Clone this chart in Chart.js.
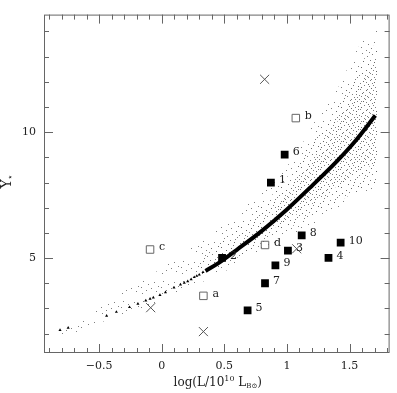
<!DOCTYPE html>
<html><head><meta charset="utf-8">
<script src="https://cdn.jsdelivr.net/npm/chart.js@4/dist/chart.umd.min.js"></script>
<style>html,body{margin:0;padding:0;background:#fff;overflow:hidden}</style>
</head><body>
<canvas id="c" width="397" height="393"></canvas>
<script>
// ---- data ----
const xTickValues = [-0.5, 0, 0.5, 1, 1.5];
const xTickLabels = ['\u22120.5', '0', '0.5', '1', '1.5'];
const yTickValues = [5, 10];
const yTickLabels = ['5', '10'];

const filledLabels = ['1','2','3','4','5','6','7','8','9','10'];
const filledX = [0.872, 0.482, 1.008, 1.332, 0.686, 0.982, 0.825, 1.118, 0.908, 1.429];
const filledY = [8.00, 5.01, 5.30, 5.01, 2.92, 9.11, 4.00, 5.90, 4.71, 5.61];

const openLabels = ['a','b','c','d'];
const openX = [0.333, 1.071, -0.093, 0.825];
const openY = [3.50, 10.56, 5.34, 5.52];

const crossX = [0.822, -0.088, 0.333, 1.078];
const crossY = [12.10, 3.03, 2.08, 5.37];

// relation: sparse triangles at the faint end, thick curve at the bright end
const triX = [-0.812, -0.747, -0.44, -0.362, -0.257, -0.19, -0.127, -0.093, -0.067, -0.014, 0.03, 0.098, 0.15, 0.18, 0.208, 0.235, 0.26, 0.28, 0.30, 0.33];
const triY = [2.14, 2.23, 2.71, 2.86, 3.05, 3.18, 3.31, 3.38, 3.43, 3.53, 3.64, 3.83, 3.95, 4.02, 4.08, 4.16, 4.24, 4.29, 4.34, 4.44];
const curveX = [0.35, 0.456, 0.6, 0.8, 1.0, 1.2, 1.4, 1.55, 1.706];
const curveY = [4.49, 4.81, 5.33, 6.08, 6.93, 7.87, 8.85, 9.67, 10.66];

// envelope of the model cloud: outer (sparse), middle, dense core
const cloudUpperX = [-0.82, -0.5, -0.2, 0.0, 0.18, 0.31, 0.52, 0.757, 0.937, 1.07, 1.173, 1.28, 1.384, 1.486, 1.594, 1.70, 1.72];
const cloudUpperY = [2.0, 3.0, 4.0, 4.6, 5.2, 5.7, 6.45, 7.5, 8.3, 9.1, 10.0, 10.9, 11.55, 12.55, 13.55, 14.1, 14.2];
const cloudLowerX = [-0.82, -0.4, 0.0, 0.3, 0.55, 0.78, 0.99, 1.175, 1.306, 1.437, 1.594, 1.72];
const cloudLowerY = [1.8, 2.6, 3.3, 4.0, 4.6, 5.3, 5.8, 6.2, 6.56, 7.07, 7.58, 7.8];
const midUpperX = [0.3, 0.6, 0.9, 1.1, 1.3, 1.45, 1.6, 1.72];
const midUpperY = [5.0, 6.2, 7.6, 8.9, 10.3, 11.5, 12.8, 13.6];
const midLowerX = [0.3, 0.6, 0.9, 1.1, 1.3, 1.5, 1.72];
const midLowerY = [4.3, 5.0, 5.9, 6.4, 6.9, 7.5, 8.0];
const coreUpperX = [0.9, 1.1, 1.3, 1.45, 1.6, 1.72];
const coreUpperY = [7.0, 8.2, 9.6, 10.8, 12.0, 12.9];
const coreLowerX = [0.9, 1.1, 1.3, 1.5, 1.72];
const coreLowerY = [6.2, 6.8, 7.5, 8.2, 8.8];

const pts = (xs, ys) => xs.map((x, i) => ({x, y: ys[i]}));

const canvas = document.getElementById('c');
const mainCtx = canvas.getContext('2d');
function makePattern(size, dots, color) {
  const c = document.createElement('canvas');
  c.width = size; c.height = size;
  const g = c.getContext('2d');
  g.fillStyle = color;
  dots.forEach(([px, py]) => g.fillRect(px, py, 1, 1));
  return mainCtx.createPattern(c, 'repeat');
}
const dotsA = [[3,1],[14,2],[8,4],[18,6],[1,7],[11,8],[6,10],[16,11],[2,13],[12,14],[7,16],[19,15],[4,18],[15,19],[10,0],[0,3],[17,17],[9,12],[13,5],[5,15]];
const dotsB = [[1,1],[6,2],[12,3],[17,1],[4,5],[9,6],[15,7],[0,9],[7,9],[13,10],[18,9],[3,12],[10,13],[16,14],[1,16],[8,17],[14,17],[19,19],[5,19],[11,19]];
const dotColor = 'rgba(95,95,95,0.8)';
const outerPattern = makePattern(20, dotsA.slice(0, 9), dotColor);
const midPattern = makePattern(20, dotsA, dotColor);
const corePattern = makePattern(20, dotsB, dotColor);

const SERIF = "'DejaVu Serif', 'Liberation Serif', serif";

const decorPlugin = {
  id: 'decor',
  afterDatasetsDraw(chart) {
    const {ctx, scales: {x, y}} = chart;
    ctx.save();
    ctx.fillStyle = '#222';
    ctx.font = '11px ' + SERIF;
    ctx.textAlign = 'left';
    ctx.textBaseline = 'middle';
    filledLabels.forEach((t, i) => {
      ctx.fillText(t, x.getPixelForValue(filledX[i]) + 8, y.getPixelForValue(filledY[i]) - 2);
    });
    openLabels.forEach((t, i) => {
      ctx.fillText(t, x.getPixelForValue(openX[i]) + 9, y.getPixelForValue(openY[i]) - 2);
    });
    ctx.restore();
  },
  afterDraw(chart) {
    const {ctx, chartArea: a, scales: {x, y}} = chart;
    ctx.save();
    ctx.strokeStyle = '#666';
    ctx.lineWidth = 1;
    ctx.strokeRect(a.left + 0.5, a.top + 0.5, a.right - a.left - 1, a.bottom - a.top - 1);
    ctx.beginPath();
    for (let k = -9; k <= 18; k++) {
      const v = k / 10;
      const px = Math.round(x.getPixelForValue(v)) + 0.5;
      const len = (k % 5 === 0) ? 9 : 5;
      ctx.moveTo(px, a.bottom); ctx.lineTo(px, a.bottom - len);
      ctx.moveTo(px, a.top); ctx.lineTo(px, a.top + len);
    }
    for (let v = 2; v <= 14; v++) {
      const py = Math.round(y.getPixelForValue(v)) + 0.5;
      const len = (v % 5 === 0) ? 9 : 5;
      ctx.moveTo(a.left, py); ctx.lineTo(a.left + len, py);
      ctx.moveTo(a.right, py); ctx.lineTo(a.right - len, py);
    }
    ctx.stroke();

    // x title: log(L/10^10 L_B⊙)
    ctx.fillStyle = '#222';
    ctx.textBaseline = 'alphabetic';
    ctx.textAlign = 'left';
    const big = '12px ' + SERIF, small = '8px ' + SERIF, tiny = '7px ' + SERIF;
    const parts = [['log(L/10', big, 0], ['10', small, -5], [' L', big, 0], ['B\u2299', tiny, 2], [')', big, 0]];
    let w = 0;
    parts.forEach(p => { ctx.font = p[1]; w += ctx.measureText(p[0]).width; });
    let cx = (a.left + a.right) / 2 + 1 - w / 2;
    const base = 386;
    parts.forEach(p => { ctx.font = p[1]; ctx.fillText(p[0], cx, base + p[2]); cx += ctx.measureText(p[0]).width; });

    // y title: Υ⋆ rotated
    ctx.translate(11, (a.top + a.bottom) / 2);
    ctx.rotate(-Math.PI / 2);
    ctx.font = '14px ' + SERIF;
    ctx.textAlign = 'center';
    ctx.fillText('\u03A5', 0, 0);
    ctx.font = '9px ' + SERIF;
    ctx.fillText('\u22C6', 7, 2);
    ctx.restore();
  }
};

const band = (label, xs, ys, fill, bg, order) => ({
  label, type: 'line', data: pts(xs, ys), borderWidth: 0, borderColor: 'rgba(0,0,0,0)', pointRadius: 0,
  tension: 0.3, fill, backgroundColor: bg, order
});

new Chart(canvas, {
  type: 'scatter',
  data: {
    datasets: [
      { label: 'relation', type: 'line', data: pts(curveX, curveY), borderColor: '#000', borderWidth: 4,
        pointRadius: 0, cubicInterpolationMode: 'monotone', fill: false, order: 0 },
      { label: 'relation faint', data: pts(triX, triY), pointStyle: 'triangle', pointRadius: 1.8,
        backgroundColor: '#000', borderColor: '#000', borderWidth: 0, order: 1 },
      { label: 'filled', data: pts(filledX, filledY), pointStyle: 'rect', pointRadius: 5.5,
        backgroundColor: '#000', borderColor: '#000', borderWidth: 0, order: 1 },
      { label: 'open', data: pts(openX, openY), pointStyle: 'rect', pointRadius: 5.3,
        backgroundColor: 'rgba(255,255,255,0)', borderColor: '#666', borderWidth: 1, order: 1 },
      { label: 'cross', data: pts(crossX, crossY), pointStyle: 'crossRot', pointRadius: 6.4,
        borderColor: '#555', borderWidth: 1, order: 1 },
      band('core upper', coreUpperX, coreUpperY, '+1', corePattern, 3),
      band('core lower', coreLowerX, coreLowerY, false, 'rgba(0,0,0,0)', 4),
      band('mid upper', midUpperX, midUpperY, '+1', midPattern, 5),
      band('mid lower', midLowerX, midLowerY, false, 'rgba(0,0,0,0)', 6),
      band('cloud upper', cloudUpperX, cloudUpperY, '+1', outerPattern, 7),
      band('cloud lower', cloudLowerX, cloudLowerY, false, 'rgba(0,0,0,0)', 8)
    ]
  },
  options: {
    responsive: false,
    animation: false,
    devicePixelRatio: 1,
    layout: { padding: { top: 1, right: 2, left: 0, bottom: 0 } },
    plugins: { legend: { display: false }, tooltip: { enabled: false } },
    scales: {
      x: {
        type: 'linear', min: -0.94, max: 1.82,
        grid: { display: false, drawTicks: false },
        border: { display: false },
        afterBuildTicks: s => { s.ticks = xTickValues.map(v => ({ value: v })); },
        afterFit: s => { s.height = 40; },
        ticks: { callback: (v, i) => xTickLabels[i], font: { family: SERIF, size: 11 }, color: '#222', padding: 7, maxRotation: 0 }
      },
      y: {
        type: 'linear', min: 1.23, max: 14.67,
        grid: { display: false, drawTicks: false },
        border: { display: false },
        afterBuildTicks: s => { s.ticks = yTickValues.map(v => ({ value: v })); },
        afterFit: s => { s.width = 44; },
        ticks: { callback: (v, i) => yTickLabels[i], font: { family: SERIF, size: 11 }, color: '#222', padding: 8 }
      }
    }
  },
  plugins: [decorPlugin]
});
</script>
</body></html>
